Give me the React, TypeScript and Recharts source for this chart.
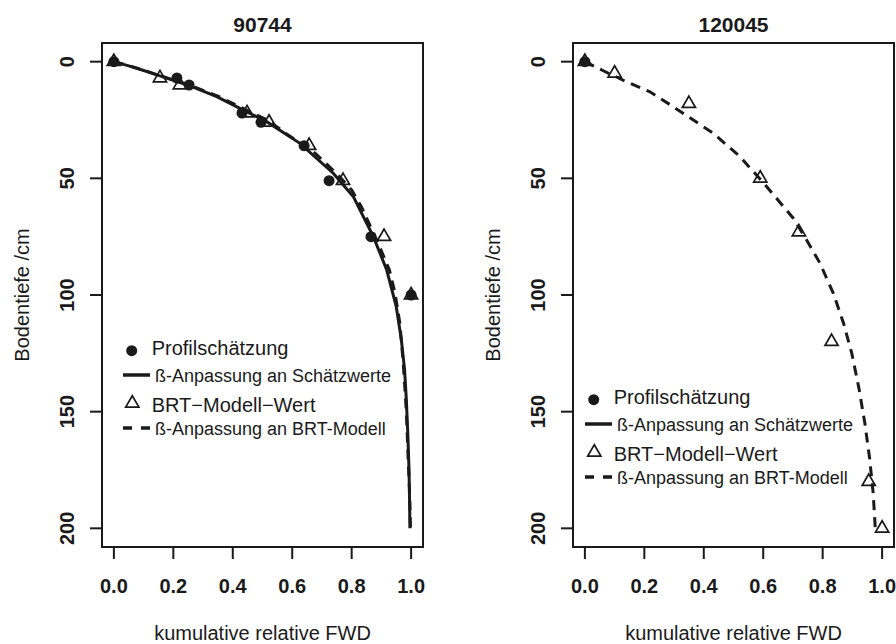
import React from 'react';
import { ComposedChart, Scatter, XAxis, YAxis, ReferenceArea, Legend } from 'recharts';

// ---------- data ----------
const X_TICKS = [0, 0.2, 0.4, 0.6, 0.8, 1.0];
const Y_TICKS = [0, 50, 100, 150, 200];

// Panel 1: 90744
const P1_TITLE = '90744';
const P1_PROFIL_X = [0, 0.212, 0.253, 0.431, 0.495, 0.64, 0.724, 0.865, 1.0];
const P1_PROFIL_D = [0, 7, 10, 22, 26, 36, 51, 75, 100];
const P1_BRT_X = [0, 0.155, 0.222, 0.448, 0.522, 0.657, 0.771, 0.909, 1.0];
const P1_BRT_D = [0, 7, 10, 22, 26, 36, 51, 75, 100];
const P1_FIT_PROFIL_X = [0, 0.05, 0.1, 0.155, 0.256, 0.346, 0.424, 0.514, 0.626, 0.738, 0.806, 0.873, 0.918, 0.95, 0.967, 0.978, 0.984, 0.989, 0.993, 0.995, 0.996];
const P1_FIT_PROFIL_D = [0, 1.8, 3.8, 6.1, 10.4, 15, 20, 25.7, 35, 47.8, 57.9, 75, 89.3, 105, 119, 132, 145, 160, 175, 190, 200];
const P1_FIT_BRT_X = [0, 0.05, 0.1, 0.155, 0.26, 0.35, 0.43, 0.52, 0.581, 0.671, 0.75, 0.8, 0.834, 0.893, 0.927, 0.946, 0.962, 0.974, 0.984, 0.99, 0.995, 0.998];
const P1_FIT_BRT_D = [0, 1.7, 3.6, 6, 10.3, 14.8, 19.7, 25.3, 31, 38.5, 48, 55, 62.5, 79, 89.3, 99.3, 112, 130, 150, 170, 185, 200];

// Panel 2: 120045
const P2_TITLE = '120045';
const P2_PROFIL_X = [0];
const P2_PROFIL_D = [0];
const P2_BRT_X = [0, 0.1, 0.35, 0.59, 0.72, 0.83, 0.955, 1.0];
const P2_BRT_D = [0, 5, 18, 50, 73, 120, 180, 200];
const P2_FIT_PROFIL_X: number[] = [];
const P2_FIT_PROFIL_D: number[] = [];
const P2_FIT_BRT_X = [0, 0.062, 0.14, 0.219, 0.297, 0.432, 0.522, 0.612, 0.701, 0.746, 0.791, 0.836, 0.87, 0.898, 0.922, 0.942, 0.958, 0.97, 0.977];
const P2_FIT_BRT_D = [0, 3.9, 8.6, 12.9, 19.3, 30.7, 40.7, 53.6, 67.1, 76.4, 86.4, 99.3, 112, 125, 140, 155, 170, 185, 200];

const LEGEND_LABELS = [
  'Profilschätzung',
  'ß-Anpassung an Schätzwerte',
  'BRT\u2212Modell\u2212Wert',
  'ß-Anpassung an BRT-Modell',
];
const X_LABEL = 'kumulative relative FWD';
const Y_LABEL = 'Bodentiefe /cm';

// ---------- helpers ----------
const zip = (xs: number[], ds: number[]) => xs.map((x, i) => ({ x, d: ds[i] }));

const FONT = "'Liberation Sans', Arial, Helvetica, sans-serif";
const INK = '#1a1a1a';

const CircleShape = (p: any) => <circle cx={p.cx} cy={p.cy} r={5.5} fill={INK} />;
const TriangleShape = (p: any) => {
  const { cx, cy } = p;
  const r = 7.6;
  const hw = 6.6;
  const pts = `${cx},${cy - r} ${cx + hw},${cy + r / 2} ${cx - hw},${cy + r / 2}`;
  return <polygon points={pts} fill="none" stroke={INK} strokeWidth={1.7} strokeLinejoin="miter" />;
};
const NoShape = () => <g />;

const XTick = (p: any) => (
  <text x={p.x} y={p.y + 32} textAnchor="middle" fontFamily={FONT} fontSize={20} fontWeight="bold" fill={INK}>
    {Number(p.payload.value).toFixed(1)}
  </text>
);
const YTick = (p: any) => {
  const x = p.x - 14;
  return (
    <text x={x} y={p.y} transform={`rotate(-90 ${x} ${p.y})`} textAnchor="middle" fontFamily={FONT} fontSize={20} fontWeight="bold" fill={INK}>
      {p.payload.value}
    </text>
  );
};

const LegendBox = () => (
  <svg width={300} height={110} style={{ overflow: 'visible' }}>
    <circle cx={16.7} cy={15.7} r={5.5} fill={INK} />
    <text x={36.7} y={20} fontFamily={FONT} fontSize={20} fill={INK}>{LEGEND_LABELS[0]}</text>
    <line x1={8} x2={35} y1={40} y2={40} stroke={INK} strokeWidth={3.5} />
    <text x={40} y={46.5} fontFamily={FONT} fontSize={18} fill={INK}>{LEGEND_LABELS[1]}</text>
    <polygon points="17.3,60.7 23.9,72.1 10.7,72.1" fill="none" stroke={INK} strokeWidth={1.7} />
    <text x={36.7} y={77} fontFamily={FONT} fontSize={20} fill={INK}>{LEGEND_LABELS[2]}</text>
    <line x1={8} x2={35} y1={93} y2={93} stroke={INK} strokeWidth={3.5} strokeDasharray="9 9" />
    <text x={40} y={100} fontFamily={FONT} fontSize={18} fill={INK}>{LEGEND_LABELS[3]}</text>
  </svg>
);

type PanelProps = {
  title: string;
  profil: { x: number; d: number }[];
  brt: { x: number; d: number }[];
  fitProfil: { x: number; d: number }[];
  fitBrt: { x: number; d: number }[];
  marginLeft: number;
  marginRight: number;
  legendLeft: number;
  legendTop: number;
};

const Panel = (props: PanelProps) => {
  const { title, profil, brt, fitProfil, fitBrt, marginLeft, marginRight, legendLeft, legendTop } = props;
  return (
    <ComposedChart width={448} height={644} margin={{ top: 43, right: marginRight, bottom: 0, left: marginLeft }}>
      <XAxis
        type="number"
        dataKey="x"
        domain={[-0.04, 1.04]}
        ticks={X_TICKS}
        allowDataOverflow
        axisLine={false}
        tickLine={{ stroke: INK, strokeWidth: 2 }}
        tickSize={12}
        tick={<XTick />}
        height={97}
        label={{
          content: (lp: any) => {
            const vb = lp.viewBox;
            return (
              <text x={vb.x + vb.width / 2} y={vb.y + 93} textAnchor="middle" fontFamily={FONT} fontSize={20} fill={INK}>
                {X_LABEL}
              </text>
            );
          },
        }}
      />
      <YAxis
        type="number"
        dataKey="d"
        domain={[-8, 208]}
        reversed
        ticks={Y_TICKS}
        allowDataOverflow
        axisLine={false}
        tickLine={{ stroke: INK, strokeWidth: 2 }}
        tickSize={12}
        tick={<YTick />}
        width={102}
        label={{
          content: (lp: any) => {
            const vb = lp.viewBox;
            const x = vb.x + 29;
            const y = vb.y + vb.height / 2;
            return (
              <text x={x} y={y} transform={`rotate(-90 ${x} ${y})`} textAnchor="middle" fontFamily={FONT} fontSize={20} fill={INK}>
                {Y_LABEL}
              </text>
            );
          },
        }}
      />
      <ReferenceArea
        x1={-0.04}
        x2={1.04}
        y1={-8}
        y2={208}
        fill="none"
        fillOpacity={0}
        stroke={INK}
        strokeWidth={2}
        ifOverflow="visible"
        label={{
          content: (lp: any) => {
            const vb = lp.viewBox;
            return (
              <text x={vb.x + vb.width / 2} y={vb.y - 11.5} textAnchor="middle" fontFamily={FONT} fontSize={21} fontWeight="bold" fill={INK}>
                {title}
              </text>
            );
          },
        }}
      />
      {fitProfil.length > 0 && (
        <Scatter
          data={fitProfil}
          dataKey="d"
          shape={NoShape}
          line={{ stroke: INK, strokeWidth: 3, fill: 'none' }}
          lineJointType="linear"
          isAnimationActive={false}
        />
      )}
      <Scatter
        data={fitBrt}
        dataKey="d"
        shape={NoShape}
        line={{ stroke: INK, strokeWidth: 3, fill: 'none', strokeDasharray: '10 7' }}
        lineJointType="linear"
        isAnimationActive={false}
      />
      <Scatter data={profil} dataKey="d" shape={CircleShape} isAnimationActive={false} />
      <Scatter data={brt} dataKey="d" shape={TriangleShape} isAnimationActive={false} />
      <Legend
        layout="vertical"
        align="center"
        verticalAlign="middle"
        content={() => <LegendBox />}
        wrapperStyle={{ position: 'absolute', left: legendLeft, top: legendTop, width: 300, height: 110 }}
      />
    </ComposedChart>
  );
};

export default function App() {
  return (
    <div style={{ position: 'absolute', left: 0, top: 0, width: 896, height: 644, background: '#fff', display: 'flex' }}>
      <Panel
        title={P1_TITLE}
        profil={zip(P1_PROFIL_X, P1_PROFIL_D)}
        brt={zip(P1_BRT_X, P1_BRT_D)}
        fitProfil={zip(P1_FIT_PROFIL_X, P1_FIT_PROFIL_D)}
        fitBrt={zip(P1_FIT_BRT_X, P1_FIT_BRT_D)}
        marginLeft={0}
        marginRight={25}
        legendLeft={115}
        legendTop={335}
      />
      <Panel
        title={P2_TITLE}
        profil={zip(P2_PROFIL_X, P2_PROFIL_D)}
        brt={zip(P2_BRT_X, P2_BRT_D)}
        fitProfil={zip(P2_FIT_PROFIL_X, P2_FIT_PROFIL_D)}
        fitBrt={zip(P2_FIT_BRT_X, P2_FIT_BRT_D)}
        marginLeft={23}
        marginRight={2}
        legendLeft={128.6}
        legendTop={384.3}
      />
    </div>
  );
}
